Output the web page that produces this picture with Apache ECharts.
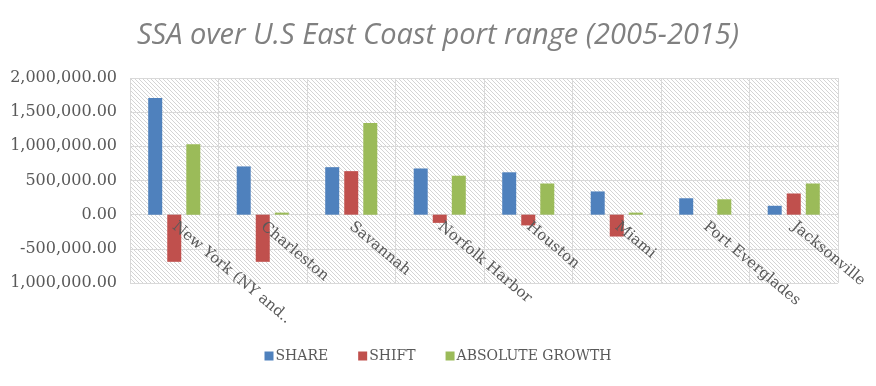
<!DOCTYPE html>
<html>
<head>
<meta charset="utf-8">
<script src="https://cdn.jsdelivr.net/npm/echarts@6/dist/echarts.min.js"></script>
<style>
  html, body { margin: 0; padding: 0; background: #fff; }
  #chart { width: 876px; height: 386px; }
</style>
</head>
<body>
<div id="chart"></div>
<script>
// 港口
const ports = ['New York (NY and NJ)', 'Charleston', 'Savannah', 'Norfolk Harbor', 'Houston', 'Miami', 'Port Everglades', 'Jacksonville']
// 三个系列 (TEU)
const share = [1706000, 706000, 695000, 676000, 620000, 340000, 240000, 130000]
const shift = [-690000, -690000, 637000, -120000, -157000, -320000, 0, 310000]
const absoluteGrowth = [1030000, 30000, 1340000, 570000, 456000, 30000, 225000, 456000]
// y轴范围
const yMin = -1000000
const yMax = 2000000

// 斜线底纹
const makeHatch = () => {
  const c = document.createElement('canvas')
  c.width = 4
  c.height = 4
  const ctx = c.getContext('2d')
  ctx.fillStyle = '#ffffff'
  ctx.fillRect(0, 0, 4, 4)
  ctx.strokeStyle = '#d4d4d4'
  ctx.lineWidth = 1
  ctx.beginPath()
  ctx.moveTo(-1, -1); ctx.lineTo(5, 5)
  ctx.moveTo(-1, 3); ctx.lineTo(1, 5)
  ctx.moveTo(3, -1); ctx.lineTo(5, 1)
  ctx.stroke()
  return c
}

const fmt = (v) => {
  const s = Math.abs(v).toLocaleString('en-US', { minimumFractionDigits: 2, maximumFractionDigits: 2 })
  // 最下面的刻度负号在原图被截掉
  if (v === yMin) return s
  return (v < 0 ? '-' : '') + s
}

const gridTop = 78
const gridBottom = 103
const gridH = 386 - gridTop - gridBottom
// 类目标签放在 0 刻度线下面
const zeroOffset = -gridH * (0 - yMin) / (yMax - yMin)

const myChart = echarts.init(document.querySelector('#chart'))
const option = {
  title: {
    text: 'SSA over U.S East Coast port range (2005-2015)',
    left: 'center',
    top: 16,
    textStyle: {
      fontFamily: 'Open Sans',
      fontStyle: 'italic',
      fontWeight: 'normal',
      fontSize: 29,
      color: '#808080'
    }
  },
  legend: {
    bottom: 18,
    left: 'center',
    itemWidth: 9,
    itemHeight: 9,
    itemGap: 30,
    icon: 'rect',
    textStyle: {
      fontFamily: 'DejaVu Serif',
      fontSize: 14,
      color: '#595959',
      padding: [0, 0, 0, -3]
    }
  },
  grid: {
    left: 130,
    right: 38,
    top: gridTop,
    bottom: gridBottom,
    show: true,
    borderWidth: 0,
    backgroundColor: { image: makeHatch(), repeat: 'repeat' }
  },
  xAxis: [
    // 网格竖线
    {
      type: 'category',
      data: ports,
      axisLine: { show: false },
      axisTick: { show: false, interval: 0 },
      axisLabel: { show: false, interval: 0 },
      splitLine: { show: true, interval: 0, lineStyle: { color: '#d9d9d9' } }
    },
    // 类目文字 (压在柱子上面)
    {
      type: 'category',
      data: ports,
      position: 'bottom',
      offset: zeroOffset,
      z: 10,
      axisLine: { show: false, onZero: false },
      axisTick: { show: false },
      splitLine: { show: false },
      axisLabel: {
        rotate: -40,
        margin: 10,
        interval: 0,
        fontFamily: 'DejaVu Serif',
        fontSize: 15,
        color: '#595959',
        formatter: (v) => v.length > 16 ? v.slice(0, 16) + '..' : v
      }
    }
  ],
  yAxis: {
    type: 'value',
    min: yMin,
    max: yMax,
    interval: 500000,
    axisLine: { show: false },
    axisTick: { show: false },
    splitLine: { lineStyle: { color: '#d9d9d9' } },
    axisLabel: {
      margin: 13,
      fontFamily: 'DejaVu Serif',
      fontSize: 16,
      color: '#595959',
      formatter: fmt
    }
  },
  series: [
    { name: 'SHARE', type: 'bar', data: share, barWidth: 14, barGap: '36%', itemStyle: { color: '#4f81bd' } },
    { name: 'SHIFT', type: 'bar', data: shift, barWidth: 14, barGap: '36%', itemStyle: { color: '#c0504d' } },
    { name: 'ABSOLUTE GROWTH', type: 'bar', data: absoluteGrowth, barWidth: 14, barGap: '36%', itemStyle: { color: '#9bbb59' } }
  ]
}
myChart.setOption(option)
</script>
</body>
</html>
